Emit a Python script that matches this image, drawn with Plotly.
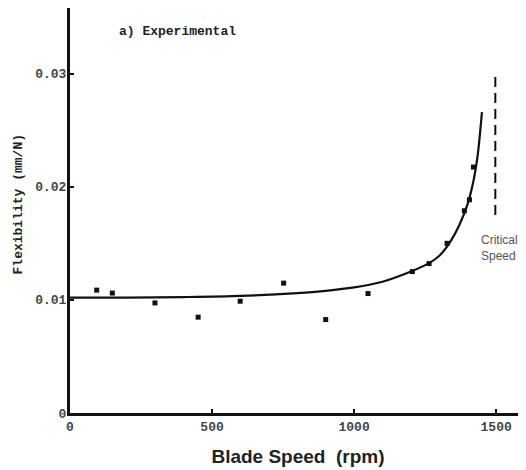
import plotly.graph_objects as go

# Experimental data points (blade speed rpm, flexibility mm/N)
speed_pts = [94, 149, 299, 451, 599, 752, 900, 1049, 1205, 1264, 1327, 1388, 1406, 1420]
flex_pts = [0.01086, 0.0106, 0.00973, 0.00847, 0.00988, 0.01148, 0.00826, 0.01056,
            0.0125, 0.01321, 0.0150, 0.01788, 0.01885, 0.02174]

# Fitted curve
curve_speed = [0, 200, 400, 600, 800, 900, 1000, 1100, 1200, 1260, 1300, 1340, 1370, 1400, 1420, 1435, 1450]
curve_flex = [0.0102, 0.0102, 0.01025, 0.01035, 0.0106, 0.0108, 0.0111, 0.0116, 0.0125, 0.0132,
              0.0139, 0.0152, 0.0166, 0.0185, 0.0205, 0.0228, 0.0266]

# Critical speed marker
critical_speed = [1497, 1497]
critical_flex = [0.0175, 0.0300]

x_ticks = [0, 500, 1000, 1500]
x_tick_labels = ["0", "500", "1000", "1500"]
y_ticks = [0, 0.01, 0.02, 0.03]
y_tick_labels = ["0", "0.01", "0.02", "0.03"]

mono = "Liberation Mono"
sans = "Liberation Sans"

fig = go.Figure()
fig.add_trace(go.Scatter(x=curve_speed, y=curve_flex, mode="lines",
                         line=dict(color="#111", width=2.2, shape="spline", smoothing=0.8),
                         hoverinfo="skip", showlegend=False))
fig.add_trace(go.Scatter(x=speed_pts, y=flex_pts, mode="markers",
                         marker=dict(color="#111", size=5, symbol="square"),
                         showlegend=False))
fig.add_trace(go.Scatter(x=critical_speed, y=critical_flex, mode="lines",
                         line=dict(color="#111", width=2, dash="10px,6px"),
                         hoverinfo="skip", showlegend=False))

fig.add_annotation(x=1440, y=0.01455, xref="x", yref="y", text="Critical<br>Speed",
                   showarrow=False, xanchor="left", yanchor="middle", align="left",
                   font=dict(family=sans, size=12, color="#555"))
fig.add_annotation(x=0.103, y=0.943, xref="paper", yref="paper", text="<b>a) Experimental</b>",
                   showarrow=False, xanchor="left", yanchor="middle",
                   font=dict(family=mono, size=13, color="#222"))
# Y-axis title placed as rotated annotation
fig.add_annotation(x=-0.114, y=0.515, xref="paper", yref="paper", text="<b>Flexibility (mm/N)</b>",
                   showarrow=False, textangle=-90, xanchor="center", yanchor="middle",
                   font=dict(family=mono, size=13, color="#222"))

fig.update_layout(
    template="none",
    width=518, height=462,
    margin=dict(l=62, r=0, t=0, b=57, autoexpand=False),
    plot_bgcolor="white", paper_bgcolor="white",
    xaxis=dict(range=[0, 1605], tickvals=x_ticks, ticktext=[f"<b>{t}</b>" for t in x_tick_labels],
               automargin=False,
               showgrid=False, zeroline=False, showline=True, linecolor="#111", linewidth=2.5,
               ticks="inside", ticklen=4, tickwidth=1.5, tickcolor="#111",
               tickfont=dict(family=mono, size=13, color="#444"),
               title=dict(text="<b>Blade Speed  (rpm)</b>", standoff=16,
                          font=dict(family=sans, size=19, color="#222"))),
    yaxis=dict(range=[0, 0.0358], tickvals=y_ticks, ticktext=[f"<b>{t}</b>" for t in y_tick_labels],
               automargin=False, ticklabelstandoff=-2,
               showgrid=False, zeroline=False, showline=True, linecolor="#111", linewidth=3,
               ticks="inside", ticklen=4, tickwidth=1.5, tickcolor="#111",
               tickfont=dict(family=mono, size=13, color="#444")),
)

fig.write_html("out.html")
